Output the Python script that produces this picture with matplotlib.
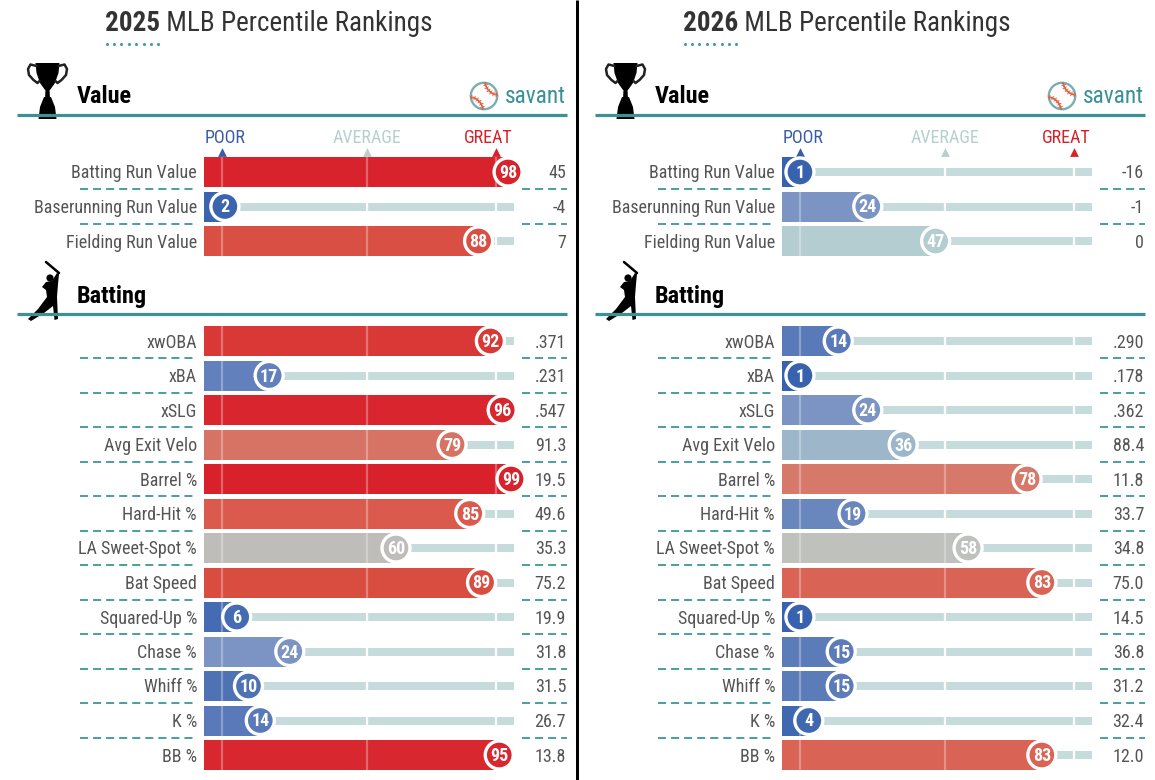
import matplotlib
matplotlib.use('Agg')
import matplotlib.pyplot as plt
from matplotlib import font_manager
from matplotlib.colors import LinearSegmentedColormap
from matplotlib.patches import Polygon, Circle
import numpy as np

plt.rcParams['lines.scale_dashes'] = False
names = {f.name for f in font_manager.fontManager.ttflist}
FONT = next((n for n in ['Roboto Condensed', 'Liberation Sans Narrow', 'DejaVu Sans'] if n in names), 'DejaVu Sans')
plt.rcParams['font.family'] = [FONT, 'DejaVu Sans']

# ---------------- data ----------------
years = ['2025', '2026']
value_labels = ['Batting Run Value', 'Baserunning Run Value', 'Fielding Run Value']
batting_labels = ['xwOBA', 'xBA', 'xSLG', 'Avg Exit Velo', 'Barrel %', 'Hard-Hit %',
                  'LA Sweet-Spot %', 'Bat Speed', 'Squared-Up %', 'Chase %', 'Whiff %',
                  'K %', 'BB %']
value_pct_2025 = [98, 2, 88]
value_stat_2025 = ['45', '-4', '7']
batting_pct_2025 = [92, 17, 96, 79, 99, 85, 60, 89, 6, 24, 10, 14, 95]
batting_stat_2025 = ['.371', '.231', '.547', '91.3', '19.5', '49.6', '35.3', '75.2',
                     '19.9', '31.8', '31.5', '26.7', '13.8']
value_pct_2026 = [1, 24, 47]
value_stat_2026 = ['-16', '-1', '0']
batting_pct_2026 = [14, 1, 24, 36, 78, 19, 58, 83, 1, 15, 15, 4, 83]
batting_stat_2026 = ['.290', '.178', '.362', '88.4', '11.8', '33.7', '34.8', '75.0',
                     '14.5', '36.8', '31.2', '32.4', '12.0']
scale_labels = ['POOR', 'AVERAGE', 'GREAT']
scale_marks = [1, 50, 94]

panels = [
    (years[0], value_pct_2025, value_stat_2025, batting_pct_2025, batting_stat_2025),
    (years[1], value_pct_2026, value_stat_2026, batting_pct_2026, batting_stat_2026),
]

# ---------------- style ----------------
cmap = LinearSegmentedColormap.from_list('savant', [
    (0.00, '#3661ad'), (0.15, '#5c7bb9'), (0.24, '#7b94c3'), (0.36, '#9db6c9'),
    (0.47, '#b4cdd0'), (0.55, '#c0c6c3'), (0.60, '#bebdb9'), (0.78, '#d6786a'),
    (0.85, '#da5b4e'), (0.89, '#d94c40'), (0.95, '#d8272f'), (1.00, '#d8202a')])
TRACK = '#c6dcdc'
TEAL = '#3d9194'
DASH = '#4a9ea0'
TXT = '#555555'
SCALE_COL = ['#3a5ca8', '#b7cfd1', '#d8212b']

W, H = 1155, 780
OFFS = [0, 578]
X0, PX = 219.0, 2.95
ROW = 34.5
PANEL_W = 575

fig = plt.figure(figsize=(W / 100, H / 100), dpi=100)
fig.patch.set_facecolor('white')
ov = fig.add_axes([0, 0, 1, 1])
ov.set_xlim(0, W)
ov.set_ylim(H, 0)
ov.axis('off')

# divider
ov.plot([576.5, 576.5], [0, H], color='black', lw=3 * 0.72, solid_capstyle='butt')


def dx(xpix):
    return (xpix - X0) / PX


def trophy(off):
    k = 'black'
    ov.add_patch(Polygon([(off + 35.5, 63), (off + 59.5, 63), (off + 58.5, 73), (off + 55, 83),
                          (off + 50, 90), (off + 45, 90), (off + 40, 83), (off + 36.5, 73)],
                         closed=True, color=k, lw=0))
    ov.add_patch(Polygon([(off + 45.5, 89), (off + 49.5, 89), (off + 50, 99), (off + 45, 99)],
                         closed=True, color=k, lw=0))
    ov.add_patch(Polygon([(off + 44, 97), (off + 51, 97), (off + 55, 107), (off + 56.5, 119),
                          (off + 38.5, 119), (off + 40, 107)], closed=True, color=k, lw=0))
    for s in (-1, 1):
        cx = off + 47.5
        xs = [cx + s * 11, cx + s * 17, cx + s * 19.5, cx + s * 18.5, cx + s * 14, cx + s * 10,
              cx + s * 8]
        ys = [66, 64.5, 69, 75, 80, 83, 81]
        ov.plot(xs, ys, color='#222222', lw=1.8, solid_capstyle='round')


def batter(off):
    k = 'black'
    ov.plot([off + 46, off + 59], [262, 273], color=k, lw=1.8, solid_capstyle='round')
    ov.add_patch(Circle((off + 50, 278), 3.6, color=k, lw=0))
    ov.add_patch(Polygon([(off + 46, 282), (off + 52, 281), (off + 57, 273), (off + 59, 274),
                          (off + 58, 284), (off + 57, 297), (off + 58, 319), (off + 54.5, 320),
                          (off + 53, 306), (off + 44, 313), (off + 31, 321), (off + 28, 319),
                          (off + 38, 309), (off + 47, 297), (off + 46, 290), (off + 42, 287)],
                         closed=True, color=k, lw=0))


def savant(off):
    cx, cy = off + 484, 96
    ov.add_patch(Circle((cx, cy), 13.2, fill=False, ec='#7aaeb1', lw=1.7))
    t1 = np.linspace(np.pi * 0.55, np.pi * 0.95, 30)
    t2 = t1 + np.pi
    for (ox, oy), t in (((15, -15), t1), ((-15, 15), t2)):
        xs = cx + ox + 14 * np.cos(t)
        ys = cy + oy + 14 * np.sin(t)
        ov.plot(xs, ys, color='#e4603f', lw=1.3)
        ov.plot(xs, ys, color='#e4603f', lw=3.4, linestyle=(0, (0.6, 1.6)))
    ov.text(off + 566, 103, 'savant', ha='right', va='baseline', fontsize=16.8, color='#3a9097')


for off, (year, vpct, vstat, bpct, bstat) in zip(OFFS, panels):
    # title
    t1 = ov.text(off + 105, 31, year, fontsize=19.5, fontweight='bold', color='#333333',
                 va='baseline', ha='left')
    ov.annotate(' MLB Percentile Rankings', xy=(1, 0), xycoords=t1, va='bottom', ha='left',
                fontsize=19.5, color='#333333')
    ov.scatter(off + 106.5 + 7.4 * np.arange(8), np.full(8, 44), s=5, color='#4a9ea3', lw=0)

    # section headers
    for name, base_y, line_y in (('Value', 103, 114.5), ('Batting', 303, 314)):
        ov.text(off + 77, base_y, name, fontsize=17.5, fontweight='bold', color='black',
                va='baseline', ha='left')
        ov.plot([off + 17, off + 567], [line_y, line_y], color=TEAL, lw=2.3, solid_capstyle='butt')
    trophy(off)
    batter(off)
    savant(off)

    # scale labels and arrows
    for lab, m, col, shift in zip(scale_labels, scale_marks, SCALE_COL, (3, 0, -8)):
        xm = off + X0 + PX * m
        ov.text(xm + shift, 143, lab, ha='center', va='baseline', fontsize=13, color=col)
        ov.scatter([xm], [151.5], marker='^', s=40, color=col, lw=0)

    # data sections
    for row0, labels, pct, stat in ((172, value_labels, vpct, vstat),
                                    (341, batting_labels, bpct, bstat)):
        n = len(labels)
        top = row0 - ROW / 2
        bottom = row0 + (n - 1) * ROW + ROW / 2
        ax = fig.add_axes([off / W, 1 - bottom / H, PANEL_W / W, (bottom - top) / H])
        ax.set_xlim(dx(0), dx(PANEL_W))
        ax.set_ylim(n - 0.5, -0.5)
        ax.axis('off')
        rows = np.arange(n)
        p = np.array(pct, dtype=float)
        cols = [cmap(v / 100) for v in p]
        ax.barh(rows, 105, left=-5, height=8 / ROW, color=TRACK, zorder=1)
        ax.barh(rows, p + 5, left=-5, height=30 / ROW, color=cols, zorder=2)
        for m in scale_marks:
            ax.vlines(np.full(n, m), rows - 15 / ROW, rows + 15 / ROW, colors='white',
                      alpha=0.3, lw=1.6, zorder=3)
            on_track = rows[p < m]
            ax.vlines(np.full(len(on_track), m), on_track - 4 / ROW, on_track + 4 / ROW,
                      colors='white', alpha=0.95, lw=1.6, zorder=3)
        ax.scatter(p, rows, s=(28 * 0.72) ** 2, c=cols, edgecolors='white', linewidths=2.4,
                   zorder=4)
        for r, v, lab, st in zip(rows, pct, labels, stat):
            ax.text(v, r + 6 / ROW, str(v), ha='center', va='baseline', color='white',
                    fontweight='bold', fontsize=13, zorder=5)
            ax.text(dx(197), r + 6.5 / ROW, lab, ha='right', va='baseline', fontsize=13,
                    color=TXT)
            ax.text(dx(566), r + 6.5 / ROW, st, ha='right', va='baseline', fontsize=13,
                    color=TXT)
        seps = rows[:-1] + 0.5
        ax.hlines(seps, dx(80), dx(197), colors=DASH, linestyles=(0, (5.8, 3.6)), lw=1.4)
        ax.hlines(seps, dx(522), dx(567), colors=DASH, linestyles=(0, (5.8, 3.6)), lw=1.4)

fig.savefig('out.png', dpi=100, facecolor='white')
